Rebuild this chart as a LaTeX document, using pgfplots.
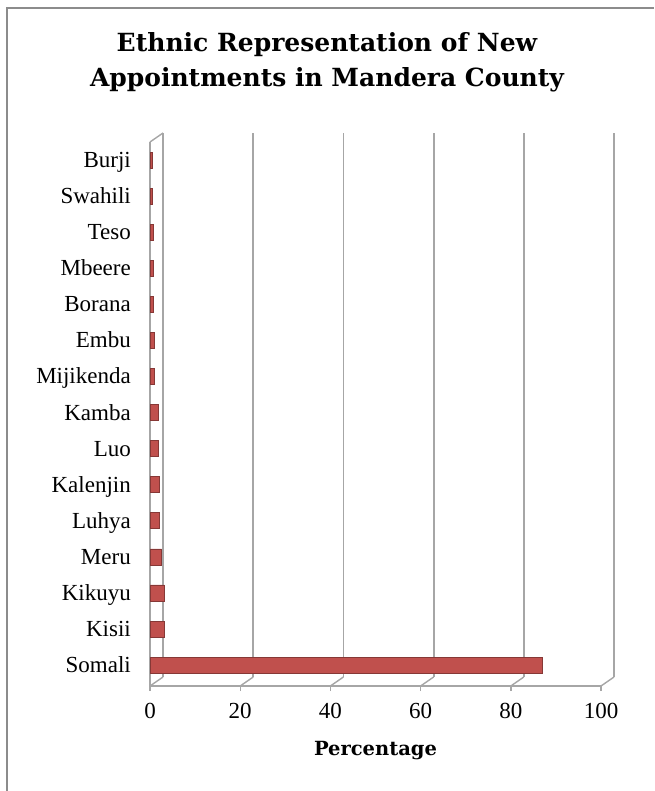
\documentclass[border=0pt]{standalone}
\usepackage{fontspec}
\setmainfont{Liberation Serif}
\newfontfamily\titlefont{DejaVu Serif}
\usepackage{pgfplots}
\pgfplotsset{compat=1.18}
\definecolor{barred}{HTML}{C0504D}
\definecolor{gridg}{HTML}{A6A6A6}
\definecolor{frameg}{HTML}{8C8C8C}
\begin{document}
\begin{tikzpicture}[x=1pt,y=1pt]
\useasboundingbox (0,0) rectangle (654,-791);
\draw[frameg, line width=1.2pt] (7,-791) -- (7,-8) -- (654,-8);
\node[anchor=base, inner sep=0pt, font=\titlefont\bfseries\fontsize{25}{30}\selectfont] at (327,-52) {Ethnic Representation of New};
\node[anchor=base, inner sep=0pt, font=\titlefont\bfseries\fontsize{25}{30}\selectfont] at (327,-87) {Appointments in Mandera County};
\begin{axis}[
  at={(150pt,-686pt)}, anchor=south west,
  scale only axis, width=451pt, height=544pt,
  xmin=0, xmax=100, ymin=-0.58, ymax=14.5,
  xtick={0,20,40,60,80,100},
  ytick={0,1,2,3,4,5,6,7,8,9,10,11,12,13,14},
  yticklabels={Somali,Kisii,Kikuyu,Meru,Luhya,Kalenjin,Luo,Kamba,Mijikenda,Embu,Borana,Mbeere,Teso,Swahili,Burji},
  xbar, bar width=16pt,
  axis x line*=bottom, axis y line*=left,
  axis line style={gridg, line width=1.6pt},
  tick align=outside, major tick length=5pt,
  x tick style={gridg, line width=1.4pt},
  y tick style={draw=none},
  xmajorgrids,
  major grid style={gridg, line width=1.8pt, xshift=13pt, yshift=9pt},
  /pgf/number format/assume math mode=true,
  ticklabel style={font=\fontsize{23}{27}\selectfont},
  xticklabel style={inner sep=0pt, anchor=north, yshift=-12pt},
  yticklabel style={inner sep=0pt, anchor=base east, xshift=-14pt, yshift=-7.5pt},
  xlabel={\titlefont\bfseries\fontsize{19.5}{23}\selectfont Percentage},
  xlabel style={inner sep=0pt, anchor=base, at={(ticklabel cs:0.5)}, yshift=-37pt},
]
\addplot[fill=barred, draw=barred!70!black, line width=0.6pt] coordinates {
(87,0) (3.2,1) (3.2,2) (2.6,3) (2.1,4) (2.1,5) (1.9,6) (1.8,7) (1.0,8) (0.9,9) (0.8,10) (0.8,11) (0.7,12) (0.6,13) (0.6,14)};
\end{axis}
\foreach \v in {0,20,40,60,80,100}{
  \draw[gridg, line width=1.4pt] ({150+4.51*\v},-686) -- ++(13,9);
}
\draw[gridg, line width=1.4pt] (150,-142) -- (163,-133);
\end{tikzpicture}
\end{document}
